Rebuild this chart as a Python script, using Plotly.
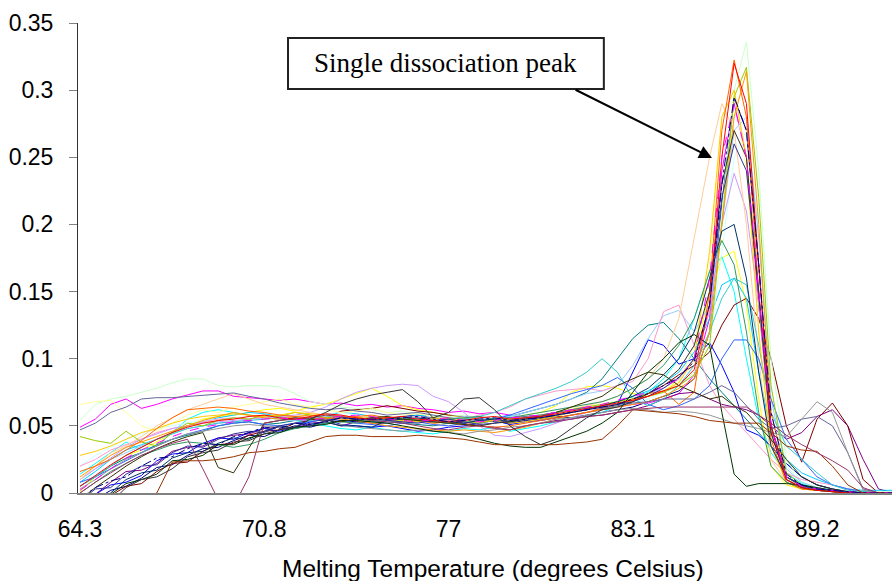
import plotly.graph_objects as go

# x positions of the readings (chart point index; labels every 12 readings)
pos = [0, 1, 2, 3, 4, 5, 6, 7, 8, 9,
       10, 11, 12, 13, 14, 15, 16, 17, 18, 19,
       20, 21, 22, 23, 24, 25, 26, 27, 28, 29,
       30, 31, 32, 33, 34, 35, 36, 37, 38, 39,
       40, 41, 41.8, 42.6, 43.4, 44.2, 45,
       46, 47, 48, 49, 50, 51, 52, 53]
tick_pos = [0, 12, 24, 36, 48]
tick_labels = ["64.3", "70.8", "77", "83.1", "89.2"]
y_ticks = [0, 0.05, 0.1, 0.15, 0.2, 0.25, 0.3, 0.35]
y_tick_labels = ["0", "0.05", "0.1", "0.15", "0.2", "0.25", "0.3", "0.35"]
x_title = "Melting Temperature (degrees Celsius)"
note_text = "Single dissociation peak"

s_000080 = [-.012, -.005, .002, .005, .011, .019, .021, .028, .033, .034,
            .039, .043, .042, .047, .05, .049, .052, .054, .053, .056,
            .055, .057, .058, .056, .054, .055, .057, .053, .052, .054,
            .055, .057, .056, .058, .06, .062, .064, .068, .072, .076,
            .085, .12, .215, .294, .27, .17, .05,
            .012, .006, .003, .002, .001, .001, 0, 0]
s_FF00FF = [.049, .055, .066, .07, .063, .066, .07, .073, .076, .076,
            .072, .071, .07, .069, .07, .068, .066, .067, .065, .066,
            .064, .065, .063, .062, .06, .061, .059, .06, .058, .057,
            .058, .06, .061, .063, .062, .064, .066, .067, .07, .074,
            .088, .13, .24, .29, .25, .14, .045,
            .01, .004, .002, .001, 0, 0, 0, 0]
s_FFFF00 = [.001, .012, .02, .028, .032, .038, .045, .05, .055, .057,
            .058, .06, .062, .063, .061, .064, .066, .07, .074, .078,
            .072, .065, .062, .06, .058, .056, .055, .054, .056, .058,
            .06, .065, .075, .079, .08, .078, .074, .072, .075, .085,
            .1, .15, .175, .18, .14, .07, .02,
            .006, .003, .002, .001, 0, 0, 0, 0]
s_00FFFF = [.014, .022, .03, .038, .032, .035, .045, .055, .06, .062,
            .06, .058, .057, .056, .054, .052, .05, .048, .047, .049,
            .047, .046, .045, .044, .046, .048, .047, .049, .046, .048,
            .05, .053, .056, .057, .06, .065, .07, .075, .085, .1,
            .13, .165, .176, .15, .1, .055, .03,
            .015, .007, .004, .002, .001, 0, 0, 0]
s_800080 = [-.005, -.001, .008, .016, .017, .022, .031, .034, .035, .041,
            .043, .044, .048, .049, .048, .052, .053, .05, .053, .052,
            .052, .053, .055, .056, .054, .052, .05, .049, .047, .05,
            .052, .054, .055, .057, .058, .06, .062, .065, .07, .074,
            .075, .07, .066, .064, .062, .058, .05,
            .04, .045, .057, .062, .05, .025, .003, 0]
s_800000 = [-.015, -.011, -.002, .005, .007, .016, .022, .023, .031, .036,
            .037, .043, .046, .047, .052, .054, .056, .061, .062, .063,
            .065, .063, .061, .06, .058, .057, .056, .055, .056, .057,
            .056, .058, .06, .062, .064, .066, .07, .074, .08, .088,
            .095, .105, .125, .14, .145, .13, .1,
            .05, .023, .055, .067, .05, .01, 0, 0]
s_008080 = [.005, .012, .02, .026, .03, .036, .04, .043, .046, .05,
            .052, .053, .051, .052, .054, .055, .057, .056, .055, .053,
            .054, .052, .051, .05, .052, .054, .053, .055, .057, .06,
            .063, .066, .07, .075, .085, .1, .115, .125, .127, .115,
            .1, .085, .075, .065, .055, .045, .035,
            .022, .012, .006, .003, .001, 0, 0, 0]
s_0000FF = [-.008, -.001, .006, .008, .013, .024, .029, .03, .037, .041,
            .04, .045, .048, .046, .049, .053, .055, .051, .05, .049,
            .05, .048, .046, .047, .049, .05, .052, .054, .051, .053,
            .054, .056, .058, .06, .062, .066, .09, .114, .11, .096,
            .1, .112, .095, .075, .047, .043, .035,
            .022, .012, .006, .003, .001, 0, 0, 0]
s_00CCFF = [.008, .016, .025, .032, .036, .04, .045, .05, .053, .056,
            .058, .06, .059, .057, .055, .056, .058, .06, .059, .057,
            .055, .056, .058, .057, .055, .053, .054, .056, .058, .057,
            .058, .06, .062, .063, .065, .068, .072, .076, .082, .09,
            .105, .13, .155, .16, .145, .09, .045,
            .025, .015, .01, .006, .003, .002, .002, .002]
s_CCFFFF = [.02, .028, .034, .04, .044, .048, .05, .052, .054, .055,
            .056, .057, .058, .057, .056, .058, .059, .06, .058, .057,
            .056, .055, .056, .057, .055, .054, .055, .056, .057, .058,
            .058, .059, .061, .062, .063, .065, .067, .07, .075, .08,
            .088, .11, .18, .25, .27, .2, .08,
            .02, .008, .004, .002, .002, .001, .001, .001]
s_CCFFCC = [.054, .066, .07, .072, .075, .078, .082, .085, .085, .08,
            .079, .08, .08, .079, .074, .068, .066, .064, .063, .062,
            .06, .061, .059, .058, .057, .058, .056, .055, .056, .057,
            .058, .06, .062, .064, .066, .068, .07, .072, .076, .08,
            .09, .12, .21, .3, .336, .24, .1,
            .025, .008, .004, .002, .001, .001, .001, .001]
s_FFFF99 = [.066, .068, .069, .06, .05, .046, .052, .058, .062, .06,
            .064, .066, .068, .07, .066, .064, .062, .06, .061, .063,
            .06, .058, .059, .057, .056, .055, .054, .056, .055, .057,
            .058, .06, .063, .065, .066, .068, .07, .072, .076, .082,
            .11, .17, .28, .3, .24, .12, .035,
            .01, .005, .003, .002, .001, 0, 0, 0]
s_99CCFF = [.01, .018, .025, .03, .035, .04, .044, .048, .05, .052,
            .053, .055, .056, .055, .054, .056, .057, .058, .056, .055,
            .054, .055, .053, .054, .055, .057, .056, .055, .057, .06,
            .063, .066, .07, .074, .076, .08, .095, .115, .132, .136,
            .12, .14, .2, .27, .28, .19, .07,
            .018, .008, .004, .002, .001, .001, 0, 0]
s_FF99CC = [.02, .025, .032, .036, .04, .045, .048, .05, .053, .055,
            .056, .055, .057, .058, .056, .054, .055, .057, .056, .055,
            .054, .056, .057, .055, .054, .055, .058, .06, .064, .07,
            .073, .076, .077, .078, .076, .08, .083, .1, .135, .14,
            .11, .08, .065, .055, .045, .035, .025,
            .015, .01, .008, .006, .003, .001, 0, 0]
s_CC99FF = [.01, .018, .026, .034, .04, .044, .048, .05, .052, .053,
            .054, .055, .056, .057, .058, .06, .064, .07, .075, .078,
            .08, .081, .08, .072, .068, .06, .05, .043, .042, .045,
            .048, .052, .056, .06, .063, .066, .07, .074, .078, .085,
            .1, .135, .2, .238, .21, .14, .05,
            .012, .005, .003, .002, .001, 0, 0, 0]
s_FFCC99 = [.01, .02, .03, .035, .042, .05, .056, .062, .066, .07,
            .074, .07, .066, .064, .062, .06, .058, .057, .056, .055,
            .054, .053, .055, .052, .05, .051, .053, .055, .054, .056,
            .058, .06, .062, .065, .068, .072, .078, .085, .1, .13,
            .19, .25, .29, .27, .2, .1, .025,
            .008, .003, .002, .001, 0, 0, 0, 0]
s_3366FF = [.008, .012, .018, .024, .03, .035, .04, .044, .047, .05,
            .052, .053, .051, .05, .052, .053, .055, .054, .052, .051,
            .05, .052, .053, .051, .05, .052, .054, .055, .058, .062,
            .066, .07, .074, .077, .08, .086, .078, .066, .062, .065,
            .07, .08, .1, .114, .114, .1, .07,
            .04, .025, .012, .006, .003, .001, 0, 0]
s_33CCCC = [.005, .012, .02, .028, .034, .04, .044, .048, .05, .052,
            .053, .054, .055, .056, .055, .054, .056, .057, .055, .053,
            .052, .054, .055, .053, .052, .055, .057, .06, .065, .07,
            .074, .078, .083, .09, .1, .09, .07, .065, .07, .08,
            .095, .12, .145, .16, .155, .11, .06,
            .035, .025, .015, .006, .002, .001, 0, 0]
s_99CC00 = [.042, .039, .037, .046, .038, .035, .045, .052, .05, .054,
            .056, .055, .058, .057, .06, .058, .056, .057, .055, .054,
            .055, .053, .054, .056, .055, .053, .052, .054, .055, .056,
            .058, .06, .062, .064, .066, .068, .07, .072, .075, .08,
            .088, .11, .2, .295, .317, .22, .08,
            .015, .006, .003, .002, .001, 0, 0, 0]
s_FFCC00 = [.028, .031, .035, .04, .045, .048, .052, .055, .057, .058,
            .059, .058, .057, .058, .06, .059, .058, .057, .056, .057,
            .055, .054, .053, .055, .056, .054, .053, .054, .052, .053,
            .055, .057, .06, .062, .064, .066, .069, .072, .076, .082,
            .1, .18, .28, .3, .25, .12, .035,
            .008, .003, .002, .001, 0, 0, 0, 0]
s_FF9900 = [.012, .02, .028, .034, .038, .042, .046, .05, .054, .057,
            .06, .058, .056, .055, .057, .058, .056, .055, .054, .052,
            .05, .049, .048, .047, .046, .047, .046, .045, .047, .049,
            .052, .055, .058, .06, .062, .064, .066, .068, .072, .078,
            .085, .12, .2, .28, .314, .2, .06,
            .012, .005, .003, .002, .001, 0, 0, 0]
s_FF6600 = [.016, .02, .025, .032, .039, .048, .056, .062, .063, .064,
            .063, .061, .06, .058, .057, .056, .055, .056, .057, .058,
            .056, .055, .054, .052, .053, .051, .05, .049, .05, .052,
            .054, .056, .058, .06, .063, .066, .07, .074, .076, .066,
            .075, .15, .27, .3225, .28, .15, .04,
            .008, .003, .002, .001, 0, 0, 0, 0]
s_666699 = [.047, .052, .06, .064, .07, .071, .071, .072, .073, .074,
            .0745, .072, .07, .067, .065, .063, .062, .063, .061, .06,
            .058, .059, .06, .058, .056, .055, .054, .055, .056, .057,
            .058, .06, .062, .064, .063, .065, .067, .068, .07, .07,
            .07, .075, .08, .075, .065, .055, .048,
            .05, .055, .057, .05, .03, .003, 0, 0]
s_969696 = [.003, .01, .018, .025, .03, .035, .04, .044, .046, .048,
            .05, .051, .05, .049, .048, .05, .052, .051, .049, .048,
            .047, .046, .047, .046, .045, .044, .046, .047, .049, .05,
            .052, .055, .056, .058, .06, .062, .063, .062, .06, .061,
            .06, .058, .055, .052, .05, .048, .045,
            .042, .055, .068, .06, .03, .002, 0, 0]
s_003366 = [-.01, -.006, 0, .01, .015, .017, .026, .03, .031, .037,
            .041, .04, .046, .05, .048, .051, .053, .05, .05, .049,
            .054, .055, .056, .054, .053, .052, .054, .055, .053, .055,
            .056, .058, .06, .062, .065, .068, .072, .078, .088, .1,
            .12, .16, .195, .2, .16, .09, .035,
            .012, .006, .003, .002, .001, 0, 0, 0]
s_339966 = [0, .008, .016, .022, .028, .032, .036, .038, .037, .036,
            .034, .036, .04, .045, .048, .05, .052, .053, .052, .054,
            .055, .056, .054, .053, .055, .056, .057, .055, .056, .058,
            .06, .062, .064, .066, .068, .072, .078, .085, .095, .11,
            .13, .165, .188, .17, .12, .06, .02,
            .008, .004, .002, .001, 0, 0, 0, 0]
s_003300 = [-.015, -.01, -.001, .007, .01, .014, .024, .025, .028, .036,
            .036, .041, .044, .045, .049, .05, .051, .054, .054, .053,
            .052, .05, .048, .046, .045, .043, .04, .037, .035, .034,
            .034, .038, .042, .046, .052, .06, .075, .09, .1, .112,
            .118, .11, .06, .014, .005, .007, .007,
            .007, .006, .004, .002, .001, 0, 0, 0]
s_333300 = [-.005, .004, .012, .02, .027, .033, .038, .042, .045, .019,
            .015, .033, .052, .054, .056, .055, .054, .053, .055, .056,
            .057, .055, .054, .053, .052, .051, .05, .052, .053, .055,
            .057, .06, .064, .068, .072, .08, .085, .09, .088, .08,
            .075, .07, .072, .065, .06, .05, .04,
            .025, .012, .006, .003, .001, 0, 0, 0]
s_993300 = [-.03, -.025, -.02, -.015, -.008, 0, .023, .024, .024, .025,
            .027, .03, .031, .033, .034, .038, .042, .043, .043, .042,
            .042, .042, .043, .042, .041, .04, .038, .036, .036, .036,
            .036, .036, .037, .038, .04, .05, .062, .061, .06, .059,
            .057, .054, .053, .052, .052, .052, .045,
            .035, .032, .031, .02, .006, 0, 0, 0]
s_993366 = [0, .008, .015, .022, .028, .033, .037, .04, .018, -.005,
            -.01, .012, .052, .054, .055, .056, .058, .057, .055, .054,
            .053, .052, .05, .048, .047, .049, .05, .048, .047, .05,
            .052, .053, .055, .057, .058, .06, .062, .063, .064, .064,
            .064, .064, .064, .064, .064, .058, .052,
            .043, .036, .03, .024, .017, .004, 0, 0]
s_333399 = [-.006, .003, .004, .014, .02, .021, .03, .035, .034, .04,
            .044, .046, .045, .05, .052, .05, .054, .056, .055, .055,
            .054, .053, .052, .054, .055, .053, .051, .052, .054, .056,
            .057, .058, .06, .062, .064, .066, .068, .072, .078, .086,
            .1, .14, .22, .26, .24, .15, .05,
            .012, .005, .003, .002, .001, 0, 0, 0]
s_333333 = [-.02, -.01, -.007, .004, .01, .012, .018, .027, .03, .032,
            .038, .039, .044, .047, .049, .055, .06, .066, .07, .073,
            .075, .077, .068, .056, .06, .07, .071, .062, .05, .042,
            .036, .04, .048, .056, .062, .064, .068, .074, .082, .092,
            .11, .15, .23, .27, .25, .15, .045,
            .01, .004, .002, .001, 0, 0, 0, 0]
s_FF0000 = [.005, .013, .021, .028, .034, .04, .045, .049, .052, .054,
            .055, .057, .058, .056, .055, .057, .059, .058, .056, .055,
            .056, .057, .055, .054, .053, .054, .056, .057, .055, .056,
            .057, .059, .061, .063, .065, .067, .069, .072, .076, .08,
            .092, .14, .25, .32, .29, .17, .05,
            .01, .004, .002, .001, 0, 0, 0, 0]
s_FF00FF_dash = [.002, .01, .018, .026, .032, .037, .042, .046, .049, .051,
                 .053, .054, .055, .056, .055, .054, .056, .057, .058, .057,
                 .055, .054, .053, .055, .056, .054, .053, .054, .056, .057,
                 .058, .06, .062, .064, .066, .069, .072, .075, .079, .085,
                 .1, .16, .25, .29, .25, .15, .05,
                 .012, .005, .003, .002, .001, 0, 0, 0]
s_000080_dash = [-.004, .004, .009, .012, .02, .026, .027, .033, .037, .036,
                 .042, .045, .049, .048, .052, .051, .053, .056, .055, .055,
                 .055, .056, .057, .055, .053, .054, .055, .056, .054, .055,
                 .056, .058, .06, .062, .064, .066, .07, .074, .08, .086,
                 .098, .14, .23, .295, .27, .17, .06,
                 .014, .006, .003, .002, .001, 0, 0, 0]

series = [
    ("#000080", "solid", s_000080), ("#FF00FF", "solid", s_FF00FF),
    ("#FFFF00", "solid", s_FFFF00), ("#00FFFF", "solid", s_00FFFF),
    ("#800080", "solid", s_800080), ("#800000", "solid", s_800000),
    ("#008080", "solid", s_008080), ("#0000FF", "solid", s_0000FF),
    ("#00CCFF", "solid", s_00CCFF), ("#CCFFFF", "solid", s_CCFFFF),
    ("#CCFFCC", "solid", s_CCFFCC), ("#FFFF99", "solid", s_FFFF99),
    ("#99CCFF", "solid", s_99CCFF), ("#FF99CC", "solid", s_FF99CC),
    ("#CC99FF", "solid", s_CC99FF), ("#FFCC99", "solid", s_FFCC99),
    ("#3366FF", "solid", s_3366FF), ("#33CCCC", "solid", s_33CCCC),
    ("#99CC00", "solid", s_99CC00), ("#FFCC00", "solid", s_FFCC00),
    ("#FF9900", "solid", s_FF9900), ("#FF6600", "solid", s_FF6600),
    ("#666699", "solid", s_666699), ("#969696", "solid", s_969696),
    ("#003366", "solid", s_003366), ("#339966", "solid", s_339966),
    ("#003300", "solid", s_003300), ("#333300", "solid", s_333300),
    ("#993300", "solid", s_993300), ("#993366", "solid", s_993366),
    ("#333399", "solid", s_333399), ("#333333", "solid", s_333333),
    ("#FF0000", "solid", s_FF0000), ("#FF00FF", "dash", s_FF00FF_dash),
    ("#000080", "dashdot", s_000080_dash),
]

fig = go.Figure()
for color, dash, vals in series:
    assert len(vals) == len(pos), (color, len(vals))
    fig.add_trace(go.Scatter(x=pos, y=vals, mode="lines",
                             line=dict(color=color, width=1, dash=dash),
                             showlegend=False, hoverinfo="skip"))

font_main = "Liberation Sans, Arial, sans-serif"
fig.update_layout(
    width=892, height=581,
    margin=dict(l=78, r=0, t=23, b=88, autoexpand=False),
    paper_bgcolor="white", plot_bgcolor="white",
    font=dict(family=font_main, color="black"),
    showlegend=False,
)
fig.update_xaxes(
    range=[-0.13, 52.88], tickvals=tick_pos, ticktext=tick_labels,
    showline=True, linecolor="#808080", linewidth=1.5,
    showgrid=False, zeroline=False, ticks="", automargin=False,
    tickfont=dict(size=23, family=font_main, color="black"),
    ticklabelstandoff=15,
)
fig.update_yaxes(
    range=[0, 0.35], tickvals=y_ticks, ticktext=y_tick_labels,
    showline=True, linecolor="#333333", linewidth=1,
    showgrid=False, zeroline=False, automargin=False,
    ticks="outside", ticklen=8, tickcolor="#808080",
    tickfont=dict(size=23, family=font_main, color="black"),
    ticklabelstandoff=11,
)

# x-axis title (placed as annotation to match the original's centring)
fig.add_annotation(xref="paper", yref="paper", x=0.51, y=-0.16,
                   text=x_title, showarrow=False,
                   font=dict(size=24.5, family=font_main, color="black"),
                   xanchor="center", yanchor="middle")

# annotation box
fig.add_shape(type="rect", xref="paper", yref="paper",
              x0=0.258, x1=0.646, y0=0.8596, y1=0.968,
              line=dict(color="#222222", width=2), fillcolor="white", layer="above")
fig.add_annotation(xref="paper", yref="paper", x=0.452, y=0.915,
                   text=note_text, showarrow=False,
                   font=dict(family="Liberation Serif, Times New Roman, serif",
                             size=27, color="black"),
                   xanchor="center", yanchor="middle")
fig.add_annotation(xref="paper", yref="paper", x=0.7789, y=0.7128,
                   ax=-138, ay=-69, axref="pixel", ayref="pixel",
                   text="", showarrow=True, arrowhead=2, arrowsize=1.3,
                   arrowwidth=2, arrowcolor="black", standoff=0, startstandoff=0)

fig.write_html("out.html", config={"displayModeBar": False},
               post_script="document.body.style.margin='0';"
                           "document.body.style.padding='0';"
                           "document.body.style.overflow='hidden';")
